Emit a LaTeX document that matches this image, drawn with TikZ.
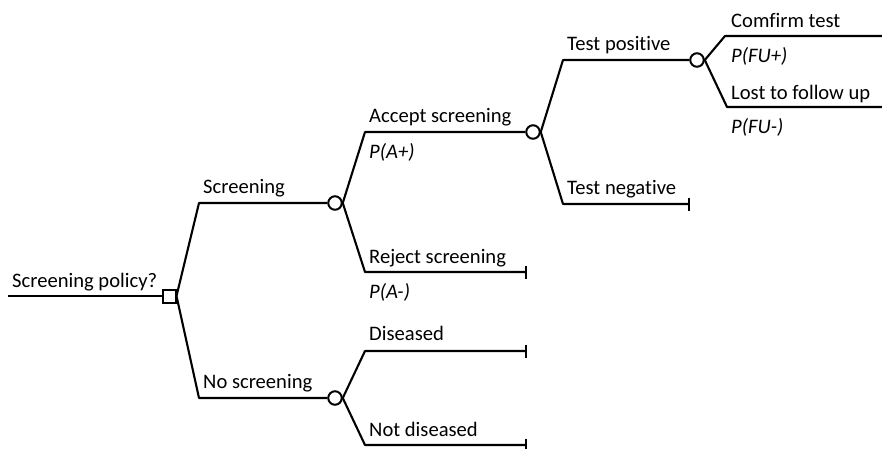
\documentclass[tikz,border=0pt]{standalone}
\usepackage{fontspec}
\setmainfont[Ligatures=NoCommon]{Carlito}
\usetikzlibrary{arrows.meta}
\begin{document}
\begin{tikzpicture}[x=1pt,y=-1pt,
  br/.style={line width=2.1pt, line join=round},
  term/.style={br, -{Bar[width=13pt,line width=2.1pt]}},
  chance/.style={circle, draw, line width=2pt, fill=white, minimum size=13.5pt, inner sep=0pt},
  decision/.style={rectangle, draw, line width=2pt, fill=white, minimum size=13pt, inner sep=0pt},
  lbl/.style={anchor=base west, inner sep=0pt, font=\fontsize{20.6}{23}\selectfont},
  prob/.style={lbl, font=\fontsize{20.6}{23}\selectfont\itshape}]
\useasboundingbox (0,0) rectangle (882,448);
% coordinates
\coordinate (root) at (8,296);
\coordinate (scr) at (199,203);
\coordinate (nos) at (199,398);
\coordinate (acc) at (365,132);
\coordinate (rej) at (365,272);
\coordinate (rejE) at (527,272);
\coordinate (tp) at (563,60);
\coordinate (tn) at (563,204);
\coordinate (tnE) at (690,204);
\coordinate (cf) at (725,36);
\coordinate (cfE) at (882,36);
\coordinate (lf) at (727,107);
\coordinate (lfE) at (882,107);
\coordinate (dis) at (365,351);
\coordinate (disE) at (527,351);
\coordinate (nd) at (365,445);
\coordinate (ndE) at (527,445);
% nodes
\node[decision] (d) at (169,296) {};
\node[chance] (c1) at (335,203) {};
\node[chance] (c2) at (335,398) {};
\node[chance] (c3) at (533,132) {};
\node[chance] (c4) at (697,60) {};
% branches
\draw[br] (root) -- (d.west);
\draw[br] (d.east) -- (scr) -- (c1.west);
\draw[br] (d.east) -- (nos) -- (c2.west);
\draw[br] (c1.east) -- (acc) -- (c3.west);
\draw[term] (c1.east) -- (rej) -- (rejE);
\draw[br] (c3.east) -- (tp) -- (c4.west);
\draw[term] (c3.east) -- (tn) -- (tnE);
\draw[br] (c4.east) -- (cf) -- (cfE);
\draw[br] (c4.east) -- (lf) -- (lfE);
\draw[term] (c2.east) -- (dis) -- (disE);
\draw[term] (c2.east) -- (nd) -- (ndE);
% labels
\node[lbl] (tRoot) at (12,287) {Screening policy?};
\node[lbl] (tScr) at (203,193) {Screening};
\node[lbl] (tNos) at (203,388) {No screening};
\node[lbl] (tAcc) at (369,122) {Accept screening};
\node[prob] (pAcc) at (369,158) {P(A+)};
\node[lbl] (tRej) at (369,263) {Reject screening};
\node[prob] (pRej) at (369,298) {P(A-)};
\node[lbl] (tTp) at (567,50) {Test positive};
\node[lbl] (tTn) at (567,194) {Test negative};
\node[lbl] (tCf) at (731,27) {Comfirm test};
\node[prob] (pCf) at (731,62) {P(FU+)};
\node[lbl] (tLf) at (731,99) {Lost to follow up};
\node[prob] (pLf) at (731,133) {P(FU-)};
\node[lbl] (tDis) at (369,340) {Diseased};
\node[lbl] (tNd) at (369,436) {Not diseased};
\end{tikzpicture}
\end{document}
